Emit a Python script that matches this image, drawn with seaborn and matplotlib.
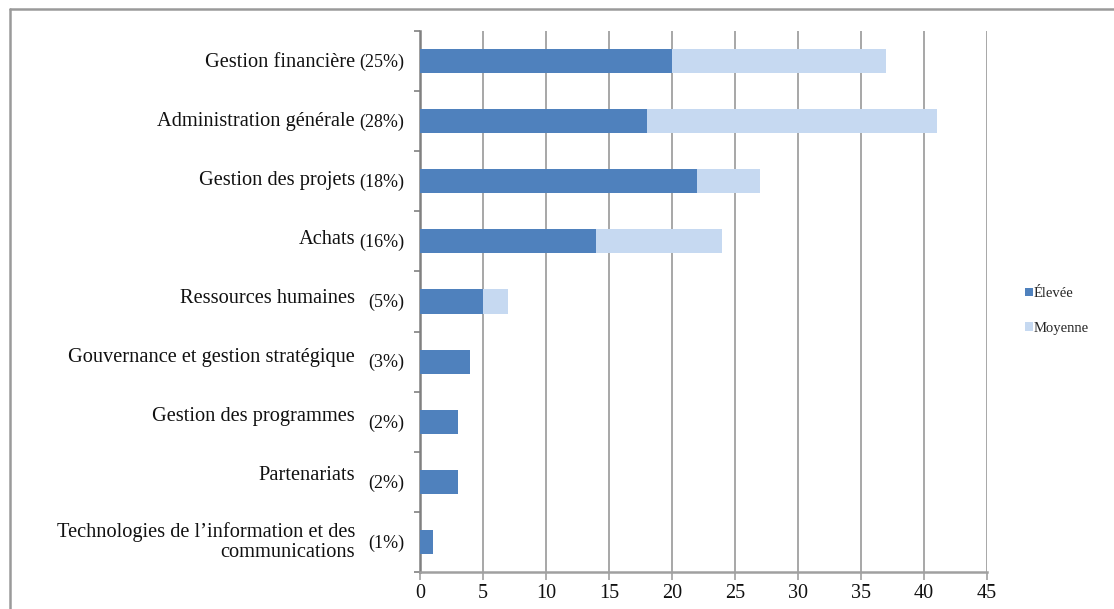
import matplotlib
matplotlib.use("Agg")
import matplotlib.pyplot as plt
from matplotlib.lines import Line2D
from matplotlib.patches import Patch
import seaborn as sns
import pandas as pd

categories = [
    "Gestion financière",
    "Administration générale",
    "Gestion des projets",
    "Achats",
    "Ressources humaines",
    "Gouvernance et gestion stratégique",
    "Gestion des programmes",
    "Partenariats",
    "Technologies de l\u2019information et des\ncommunications",
]
shares = ["(25%)", "(28%)", "(18%)", "(16%)", "(5%)", "(3%)", "(2%)", "(2%)", "(1%)"]
elevee = [20, 18, 22, 14, 5, 4, 3, 3, 1]
moyenne = [17, 23, 5, 10, 2, 0, 0, 0, 0]
x_ticks = [0, 5, 10, 15, 20, 25, 30, 35, 40, 45]

c_high = "#4F81BD"
c_mid = "#C6D9F1"
grid_c = "#A0A0A0"

df = pd.DataFrame({"cat": categories, "Élevée": elevee, "Moyenne": moyenne})
df["total"] = df["Élevée"] + df["Moyenne"]

sns.set_theme(style="white")
plt.rcParams["font.family"] = ["Liberation Serif", "DejaVu Serif"]

fig = plt.figure(figsize=(11.14, 6.09), dpi=100)
ax = fig.add_axes([420 / 1114, 1 - 572 / 609, 567 / 1114, 541 / 609])

# stacked bars: full total in light blue, "Élevée" part drawn over it
sns.barplot(data=df, y="cat", x="total", order=categories, orient="h",
            color=c_mid, width=0.4, saturation=1, ax=ax, zorder=3)
sns.barplot(data=df, y="cat", x="Élevée", order=categories, orient="h",
            color=c_high, width=0.4, saturation=1, ax=ax, zorder=4)
for p in ax.patches:
    p.set_edgecolor("none")

ax.set_xlim(0, 45)
ax.set_ylim(len(categories) - 0.5, -0.5)
ax.set_xticks(x_ticks)
ax.set_xticklabels([str(t) for t in x_ticks], fontsize=14.5)
ax.set_xlabel("")
ax.set_ylabel("")

for t in x_ticks[1:]:
    ax.axvline(t, color=grid_c, lw=1.3, zorder=1)

# y ticks at category boundaries, labels drawn separately
ax.set_yticks([i - 0.5 for i in range(len(categories) + 1)])
ax.set_yticklabels([])
ax.tick_params(axis="y", length=4, width=1.2, color="#808080", direction="out", left=True)
ax.tick_params(axis="x", length=6, width=1.2, color=grid_c, direction="out",
               bottom=True, pad=3, labelcolor="#111111")

for s in ["top", "right"]:
    ax.spines[s].set_visible(False)
ax.spines["left"].set_color("#808080")
ax.spines["left"].set_linewidth(1.8)
ax.spines["bottom"].set_color(grid_c)
ax.spines["bottom"].set_linewidth(1.8)

trans_name = matplotlib.transforms.blended_transform_factory(fig.transFigure, ax.transData)
for i, (name, pct) in enumerate(zip(categories, shares)):
    two_lines = "\n" in name
    dy = 0.0 if two_lines else 0.03 - 0.019 * i
    ax.text(355 / 1114, i + dy, name, transform=trans_name, ha="right",
            va="center", fontsize=14.7, color="#111111", linespacing=1.02,
            multialignment="right")
    ax.text(404 / 1114, i + 0.02, pct, transform=trans_name, ha="right",
            va="center", fontsize=13, color="#111111")

handles = [Patch(facecolor=c_high, edgecolor="none", label="Élevée"),
           Patch(facecolor=c_mid, edgecolor="none", label="Moyenne")]
fig.legend(handles=handles, loc="center left", bbox_to_anchor=(1019 / 1114, 1 - 311 / 609),
           frameon=False, fontsize=10.5, handlelength=0.55, handleheight=0.55,
           handletextpad=0.05, labelspacing=1.5, borderaxespad=0)

# outer frame (top and left edges)
fig.add_artist(Line2D([10 / 1114, 1.0], [1 - 9 / 609, 1 - 9 / 609],
                      transform=fig.transFigure, color="#9A9A9A", lw=1.8))
fig.add_artist(Line2D([10 / 1114, 10 / 1114], [0, 1 - 9 / 609],
                      transform=fig.transFigure, color="#9A9A9A", lw=1.8))

fig.savefig("out.png", dpi=100)
